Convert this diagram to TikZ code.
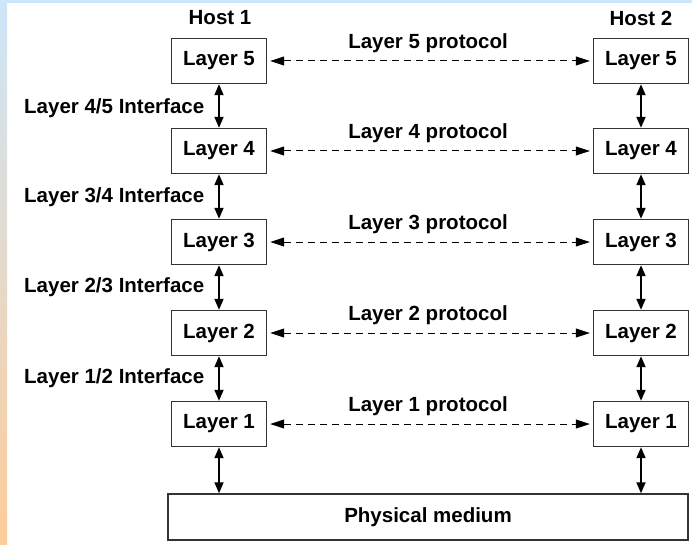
\documentclass[tikz,border=0pt]{standalone}
\usepackage{fontspec}
\setmainfont{Liberation Sans}
\usetikzlibrary{arrows.meta}
\definecolor{edgeblue}{HTML}{CDE6FA}
\definecolor{edgepeach}{HTML}{FDCC99}
\definecolor{boxline}{HTML}{333333}
\begin{document}
\begin{tikzpicture}[x=1pt,y=-1pt,
  lbl/.style={font=\fontsize{20.5}{23}\selectfont\bfseries, inner sep=0pt},
  layerbox/.style={draw=boxline, line width=1.4pt, minimum width=95pt, minimum height=45pt,
    inner sep=0pt, font=\fontsize{20.5}{23}\selectfont\bfseries},
  iface/.style={line width=1.8pt, {Triangle[length=11pt,width=9pt]}-{Triangle[length=11pt,width=9pt]}},
  proto/.style={line width=1pt, dash pattern=on 7pt off 5pt,
    {Triangle[length=14pt,width=9pt]}-{Triangle[length=14pt,width=9pt]}, shorten <=3pt, shorten >=3pt}]
  \useasboundingbox (0,0) rectangle (692,545);
  % page edge strips
  \fill[edgeblue] (0,0) rectangle (692,3);
  \shade[top color=edgeblue, bottom color=edgepeach] (0,0) rectangle (7,545);
  % host labels
  \node[lbl] (h1) at (220,18) {Host 1};
  \node[lbl] (h2) at (641,18) {Host 2};
  % layer stacks
  \foreach \n/\y in {5/61,4/151,3/242,2/333,1/424}{
    \node[layerbox] (a\n) at (219,\y) {Layer \n};
    \node[layerbox] (b\n) at (641,\y) {Layer \n};
    \draw[proto] (a\n) -- (b\n);
    \node[lbl] (p\n) at (428,\y-18) {Layer \n\ protocol};
  }
  % physical medium
  \node[layerbox, minimum width=520pt, minimum height=46pt] (pm) at (428,517) {Physical medium};
  % interfaces
  \foreach \u/\l/\y in {5/4/108,4/3/197,3/2/287,2/1/378}{
    \draw[iface] (a\u) -- (a\l);
    \draw[iface] (b\u) -- (b\l);
    \node[lbl, anchor=west] (i\l) at (24,\y) {Layer \l/\u\ Interface};
  }
  \draw[iface] (a1.south) -- (a1.south |- pm.north);
  \draw[iface] (b1.south) -- (b1.south |- pm.north);
\end{tikzpicture}
\end{document}
